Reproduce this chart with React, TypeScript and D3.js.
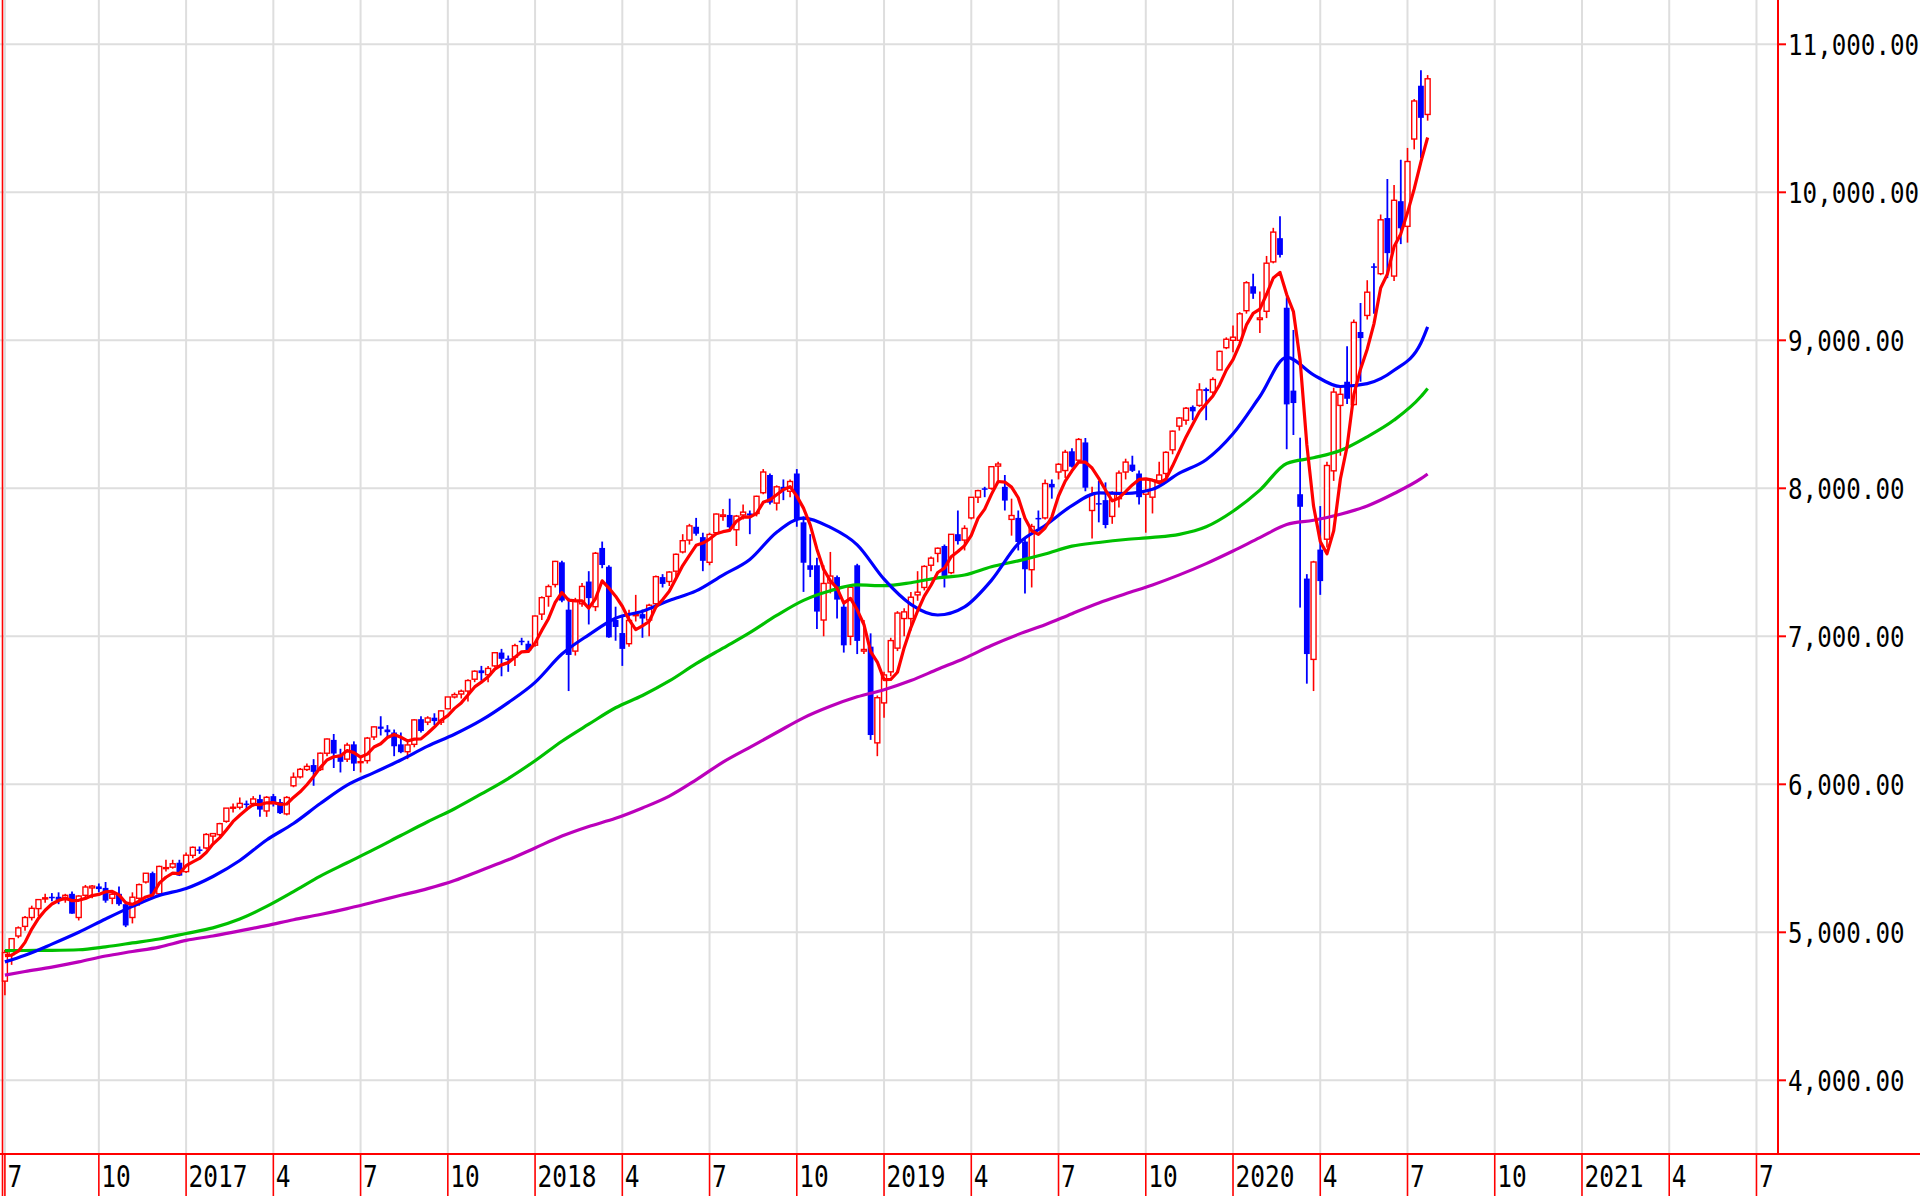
import React from "react";
import * as d3 from "d3";

// Weekly candles, first week = week of 2016-06-27 (index 0), last = week of 2020-07-20 (index 212)
const opens = [
  4670, 4850, 4975, 5040, 5100, 5160, 5225, 5240, 5240, 5220,
  5260, 5100, 5250, 5300, 5310, 5300, 5230, 5260, 5190, 5100,
  5230, 5340, 5400, 5260, 5430, 5440, 5470, 5410, 5520, 5560,
  5570, 5650, 5660, 5750, 5840, 5845, 5870, 5870, 5900, 5820,
  5920, 5880, 5800, 5990, 6050, 6100, 6130, 6100, 6210, 6300,
  6200, 6170, 6270, 6150, 6160, 6320, 6390, 6370, 6350, 6270,
  6220, 6270, 6440, 6420, 6450, 6420, 6510, 6590, 6610, 6630,
  6710, 6770, 6740, 6800, 6890, 6850, 6860, 6970, 6950, 6940,
  7150, 7270, 7350, 7500, 7180, 6900, 7220, 7370, 7200, 7597,
  7470, 7110, 7022, 6950, 7140, 7150, 7110, 7220, 7400, 7370,
  7440, 7570, 7650, 7740, 7670, 7500, 7700, 7810, 7820, 7720,
  7820, 7830, 7830, 7970, 8090, 7900, 8010, 7980, 8100, 7770,
  7480, 7480, 7110, 7360, 7400, 7200, 7000, 7480, 6900, 6930,
  6280, 6550, 6760, 6920, 7120, 7120, 7280, 7330, 7480, 7560,
  7610, 7430, 7690, 7650, 7800, 7940, 8000, 8000, 8150, 8010,
  7790, 7800, 7640, 7450, 7800, 7800, 8030, 8110, 8120, 8250,
  8190, 8310, 7850, 7900, 7920, 7810, 7930, 8110, 8160, 8100,
  7960, 7940, 8050, 8100, 8260, 8420, 8460, 8550, 8560, 8670,
  8650, 8800, 8950, 9000, 9000, 9200, 9365, 9140, 9196, 9530,
  9690, 9220, 8660, 7960, 7390, 6844, 7586, 7656, 8118, 8560,
  8720, 8566, 9056, 9168, 9500, 9450, 9826, 9434, 9940, 9770,
  10360, 10720, 10526,
];
const highs = [
  4880, 4960, 5040, 5110, 5180, 5225, 5260, 5265, 5270, 5260,
  5275, 5250, 5320, 5320, 5330, 5340, 5280, 5310, 5210, 5270,
  5330, 5400, 5410, 5450, 5490, 5490, 5490, 5540, 5580, 5580,
  5670, 5670, 5740, 5840, 5870, 5911, 5890, 5920, 5930, 5920,
  5935, 5900, 5920, 6080, 6110, 6140, 6170, 6215, 6310, 6340,
  6240, 6280, 6290, 6190, 6320, 6390, 6460, 6400, 6370, 6350,
  6290, 6440, 6460, 6460, 6480, 6500, 6590, 6620, 6640, 6710,
  6770, 6800, 6800, 6890, 6915, 6870, 6950, 6990, 6970, 7140,
  7270, 7350, 7510, 7510, 7260, 7260, 7360, 7440, 7570, 7640,
  7480, 7200, 7140, 7180, 7280, 7180, 7220, 7410, 7420, 7440,
  7560, 7690, 7760, 7800, 7700, 7700, 7830, 7860, 7930, 7820,
  7890, 7850, 7950, 8130, 8100, 8020, 8060, 8060, 8130, 7810,
  7690, 7530, 7480, 7570, 7410, 7230, 7340, 7490, 7110, 7020,
  6600, 6760, 6990, 7170, 7190, 7300, 7440, 7480, 7540, 7600,
  7620, 7690, 7850, 7750, 7940, 7990, 8010, 8150, 8180, 8090,
  7930, 7850, 7670, 7760, 7850, 8060, 8060, 8170, 8260, 8270,
  8340, 8340, 8010, 8050, 8040, 7980, 8120, 8200, 8220, 8120,
  8060, 8060, 8180, 8250, 8390, 8480, 8550, 8560, 8710, 8680,
  8750, 8930, 9020, 9100, 9190, 9400, 9450, 9330, 9570, 9760,
  9838, 9290, 9070, 8342, 7420, 7510, 7880, 8180, 8680, 8690,
  8960, 9140, 9252, 9406, 9520, 9850, 10090, 10050, 10220, 10300,
  10630, 10824, 10792,
];
const lows = [
  4574, 4780, 4960, 5010, 5080, 5110, 5200, 5210, 5190, 5200,
  5125, 5080, 5230, 5230, 5270, 5200, 5190, 5180, 5035, 5060,
  5180, 5330, 5240, 5250, 5410, 5430, 5380, 5400, 5500, 5530,
  5560, 5590, 5650, 5740, 5810, 5830, 5820, 5850, 5780, 5780,
  5850, 5800, 5790, 5980, 6040, 6090, 5990, 6090, 6190, 6110,
  6080, 6150, 6090, 6080, 6140, 6300, 6330, 6320, 6190, 6210,
  6170, 6250, 6350, 6400, 6400, 6400, 6510, 6580, 6580, 6560,
  6690, 6700, 6690, 6790, 6730, 6760, 6800, 6940, 6900, 6930,
  7110, 7200, 7330, 7230, 6630, 6870, 7200, 7080, 7170, 7460,
  6990, 6970, 6800, 6930, 7100, 6990, 7000, 7210, 7330, 7340,
  7390, 7560, 7620, 7680, 7440, 7480, 7690, 7780, 7710, 7610,
  7790, 7690, 7810, 7960, 7890, 7850, 7920, 7940, 7740, 7300,
  7400, 7050, 7000, 7290, 7120, 6890, 6940, 6880, 6880, 6300,
  6190, 6450, 6730, 6900, 7000, 7040, 7240, 7310, 7440, 7500,
  7330, 7420, 7620, 7580, 7790, 7900, 7940, 7990, 8040, 7850,
  7680, 7580, 7290, 7330, 7730, 7790, 7930, 8060, 8070, 8140,
  8180, 7980, 7660, 7770, 7730, 7760, 7870, 8060, 8110, 7890,
  7700, 7830, 8040, 8060, 8230, 8390, 8430, 8460, 8550, 8460,
  8620, 8800, 8940, 8920, 8980, 9180, 9280, 9050, 9150, 9520,
  9560, 8264, 8360, 7194, 6680, 6630, 7280, 7600, 8050, 8220,
  8570, 8560, 8720, 9140, 9180, 9440, 9420, 9400, 9650, 9660,
  10290, 10232, 10484,
];
const closes = [
  4863, 4957, 5030, 5100, 5162, 5221, 5233, 5238, 5219, 5250,
  5126, 5245, 5306, 5312, 5292, 5214, 5257, 5190, 5046, 5237,
  5322, 5399, 5256, 5445, 5437, 5463, 5383, 5521, 5574, 5555,
  5661, 5667, 5734, 5839, 5845, 5871, 5862, 5901, 5829, 5912,
  5878, 5805, 5911, 6048, 6101, 6121, 6084, 6210, 6306, 6208,
  6152, 6265, 6140, 6153, 6312, 6388, 6375, 6352, 6257, 6217,
  6266, 6435, 6360, 6448, 6427, 6496, 6590, 6606, 6629, 6701,
  6764, 6751, 6783, 6889, 6848, 6840, 6937, 6960, 6903, 7137,
  7261, 7336, 7506, 7241, 6874, 7239, 7337, 7258, 7561, 7482,
  6993, 7063, 6915, 7107, 7146, 7120, 7210, 7403, 7354, 7434,
  7554, 7646, 7746, 7693, 7510, 7688, 7826, 7820, 7737, 7812,
  7839, 7816, 7946, 8110, 7903, 8010, 7987, 8046, 7788, 7497,
  7449, 7167, 7357, 7407, 7248, 6939, 7331, 6969, 6911, 6333,
  6585, 6739, 6971, 7157, 7165, 7264, 7298, 7472, 7528, 7595,
  7408, 7689, 7643, 7729, 7939, 7984, 7998, 8146, 8164, 7917,
  7816, 7637, 7453, 7742, 7797, 8032, 8006, 8162, 8244, 8146,
  8330, 8004, 7959, 7896, 7752, 7963, 8103, 8177, 8118, 7940,
  7982, 8057, 8090, 8243, 8386, 8475, 8541, 8520, 8665, 8657,
  8735, 8925, 9007, 9021, 9179, 9389, 9315, 9151, 9521, 9731,
  9577, 8567, 8576, 7875, 6880, 7502, 7373, 8154, 8650, 8635,
  8605, 9121, 9015, 9325, 9490, 9814, 9589, 9946, 9757, 10208,
  10617, 10503, 10767,
];

// red moving average, one value per week
const maRed = [
  4842, 4845, 4872, 4932, 5022, 5094, 5149, 5191, 5215, 5232,
  5213, 5216, 5229, 5248, 5256, 5274, 5276, 5253, 5200, 5189,
  5210, 5239, 5252, 5332, 5372, 5400, 5397, 5450, 5476, 5499,
  5539, 5596, 5638, 5691, 5749, 5791, 5830, 5864, 5862, 5875,
  5876, 5865, 5867, 5911, 5949, 5997, 6053, 6113, 6164, 6186,
  6192, 6228, 6214, 6184, 6204, 6252, 6274, 6316, 6337, 6318,
  6293, 6305, 6307, 6345, 6387, 6433, 6464, 6513, 6550, 6604,
  6658, 6690, 6726, 6778, 6807, 6822, 6859, 6895, 6898, 6955,
  7040, 7119, 7229, 7296, 7244, 7239, 7239, 7190, 7254, 7375,
  7326, 7271, 7203, 7112, 7045, 7070, 7100, 7197, 7247, 7304,
  7391, 7478, 7547, 7615, 7630, 7657, 7693, 7707, 7716, 7777,
  7807, 7805, 7830, 7905, 7923, 7957, 7991, 8011, 7947, 7866,
  7753, 7589, 7452, 7375, 7326, 7224, 7256, 7179, 7080, 6897,
  6826, 6707, 6708, 6757, 6923, 7059, 7171, 7271, 7345, 7431,
  7460, 7538, 7573, 7613, 7682, 7797, 7859, 7959, 8046, 8042,
  8008, 7936, 7797, 7713, 7689, 7732, 7806, 7948, 8048, 8118,
  8178, 8177, 8137, 8067, 7988, 7915, 7935, 7978, 8023, 8060,
  8064, 8055, 8037, 8062, 8152, 8250, 8347, 8433, 8517, 8572,
  8624, 8700, 8798, 8869, 8973, 9104, 9182, 9211, 9311, 9421,
  9459, 9309, 9194, 8865, 8295, 7880, 7641, 7557, 7712, 8063,
  8283, 8633, 8805, 8940, 9111, 9353, 9447, 9633, 9719, 9863,
  10023, 10206, 10370,
];

// longer averages, read every fourth week
const maWeeks = [
  0, 3, 7, 11, 15, 19, 23, 27, 31, 35, 39, 43, 47, 51, 55, 59, 63, 67, 71, 75,
  79, 83, 87, 91, 95, 99, 103, 107, 111, 115, 119, 123, 127, 131, 135, 139, 143, 147, 151, 155,
  159, 163, 167, 171, 175, 179, 183, 187, 191, 195, 199, 203, 207, 211, 212,
];
const maBlue = [
  4800, 4845, 4920, 5000, 5090, 5175, 5249, 5296, 5377, 5485, 5624, 5735, 5870, 5994, 6079, 6164, 6258, 6338, 6433, 6552,
  6689, 6880, 7010, 7122, 7169, 7242, 7307, 7414, 7519, 7703, 7799, 7736, 7618, 7386, 7216, 7144, 7199, 7378, 7626, 7749,
  7883, 7969, 7965, 7993, 8102, 8193, 8368, 8620, 8885, 8767, 8688, 8707, 8797, 8982, 9091,
];
const maGreen = [
  4876, 4877, 4878, 4882, 4902, 4928, 4955, 4992, 5030, 5090, 5175, 5275, 5380, 5470, 5560, 5654, 5747, 5835, 5935, 6039,
  6159, 6291, 6406, 6517, 6600, 6698, 6815, 6920, 7025, 7141, 7243, 7308, 7347, 7342, 7362, 7395, 7414, 7470, 7510, 7556,
  7609, 7634, 7654, 7668, 7689, 7740, 7845, 7988, 8168, 8206, 8255, 8348, 8461, 8620, 8675,
];
const maMagenta = [
  4711, 4735, 4765, 4800, 4840, 4870, 4900, 4945, 4975, 5010, 5045, 5085, 5120, 5160, 5205, 5250, 5295, 5350, 5420, 5490,
  5570, 5650, 5715, 5770, 5840, 5920, 6030, 6150, 6250, 6350, 6449, 6527, 6591, 6639, 6701, 6777, 6852, 6938, 7013, 7078,
  7153, 7225, 7287, 7347, 7415, 7491, 7576, 7667, 7755, 7784, 7825, 7881, 7965, 8065, 8097,
];

const yTicks = [4000, 5000, 6000, 7000, 8000, 9000, 10000, 11000];
const xTickMonths: [number, number][] = [
  [2016, 7], [2016, 10], [2017, 1], [2017, 4], [2017, 7], [2017, 10], [2018, 1], [2018, 4], [2018, 7], [2018, 10],
  [2019, 1], [2019, 4], [2019, 7], [2019, 10], [2020, 1], [2020, 4], [2020, 7], [2020, 10], [2021, 1], [2021, 4], [2021, 7],
];
const xTickLabels = [
  "7", "10", "2017", "4", "7", "10", "2018", "4", "7", "10",
  "2019", "4", "7", "10", "2020", "4", "7", "10", "2021", "4", "7",
];

const W = 1920;
const H = 1196;
const PLOT_RIGHT = 1778;
const PLOT_BOTTOM = 1154;
const RED = "#ff0000";
const BLUE = "#0000ff";
const GRID = "#dedede";
const FONT = "'DejaVu Sans Mono', 'Liberation Mono', monospace";

export default function App() {
  const start = new Date(2016, 5, 27);
  const x = d3.scaleLinear().domain([0, 261]).range([4.9, 4.9 + 261 * 6.711]);
  const y = d3.scaleLinear().domain([4000, 11000]).range([1080.3, 44.3]);

  const tickIdx = xTickMonths.map(([yr, mo]) => {
    let d = new Date(yr, mo - 1, 1);
    const wd = d.getDay();
    if (wd === 6) d = d3.timeDay.offset(d, 2);
    else if (wd === 0) d = d3.timeDay.offset(d, 1);
    const mon = d3.timeMonday.floor(d);
    return d3.timeMonday.count(start, mon);
  });

  const fmt = d3.format(",.2f");

  const redLine = d3
    .line<number>()
    .x((_, i) => x(i))
    .y((v) => y(v));
  const smooth = d3
    .line<number>()
    .x((_, i) => x(maWeeks[i]))
    .y((v) => y(v))
    .curve(d3.curveMonotoneX);

  return (
    <svg
      width={W}
      height={H}
      style={{ position: "absolute", left: 0, top: 0, background: "#fff" }}
    >
      <rect x={0} y={0} width={W} height={H} fill="#fff" />
      {/* grid */}
      {yTicks.map((v) => (
        <line key={"hg" + v} x1={0} x2={PLOT_RIGHT} y1={y(v)} y2={y(v)} stroke={GRID} strokeWidth={2} />
      ))}
      {tickIdx.map((t, k) => (
        <line key={"vg" + k} x1={x(t)} x2={x(t)} y1={0} y2={PLOT_BOTTOM} stroke={GRID} strokeWidth={2} />
      ))}

      {/* candles */}
      {closes.map((c, i) => {
        const o = opens[i];
        const hi = highs[i];
        const lo = lows[i];
        const cx = x(i);
        const up = c >= o;
        const top = y(Math.max(o, c));
        const bot = y(Math.min(o, c));
        if (up) {
          return (
            <g key={"c" + i}>
              <line x1={cx} x2={cx} y1={y(hi)} y2={y(lo)} stroke={RED} strokeWidth={1.6} />
              <rect x={cx - 2.5} y={top} width={5} height={Math.max(1, bot - top)} fill="#fff" stroke={RED} strokeWidth={1.4} />
            </g>
          );
        }
        return (
          <g key={"c" + i}>
            <line x1={cx} x2={cx} y1={y(hi)} y2={y(lo)} stroke={BLUE} strokeWidth={1.8} />
            <rect x={cx - 2.9} y={top} width={5.8} height={Math.max(1.5, bot - top)} fill={BLUE} />
          </g>
        );
      })}

      {/* moving averages */}
      <path d={smooth(maMagenta) || ""} fill="none" stroke="#bb00bb" strokeWidth={3.2} />
      <path d={smooth(maGreen) || ""} fill="none" stroke="#00c000" strokeWidth={3.2} />
      <path d={smooth(maBlue) || ""} fill="none" stroke={BLUE} strokeWidth={3.2} />
      <path d={redLine(maRed) || ""} fill="none" stroke={RED} strokeWidth={3.2} strokeLinejoin="round" />

      {/* axes */}
      <line x1={2.5} x2={2.5} y1={0} y2={H} stroke={RED} strokeWidth={1.6} />
      <line x1={PLOT_RIGHT} x2={PLOT_RIGHT} y1={0} y2={PLOT_BOTTOM} stroke={RED} strokeWidth={2} />
      <line x1={0} x2={W} y1={PLOT_BOTTOM} y2={PLOT_BOTTOM} stroke={RED} strokeWidth={2} />
      {tickIdx.map((t, k) => (
        <g key={"xt" + k}>
          <line x1={x(t)} x2={x(t)} y1={PLOT_BOTTOM} y2={H} stroke={RED} strokeWidth={1.6} />
          <text
            transform={`translate(${x(t) + 2.5},1187) scale(1,1.22)`}
            fontFamily={FONT}
            fontSize={24.5}
            fill="#000"
          >
            {xTickLabels[k]}
          </text>
        </g>
      ))}
      {yTicks.map((v) => (
        <g key={"yt" + v}>
          <line x1={PLOT_RIGHT} x2={PLOT_RIGHT + 8} y1={y(v)} y2={y(v)} stroke={RED} strokeWidth={2} />
          <text
            transform={`translate(1788,${y(v) + 10.3}) scale(1,1.14)`}
            fontFamily={FONT}
            fontSize={24.2}
            fill="#000"
          >
            {fmt(v)}
          </text>
        </g>
      ))}
    </svg>
  );
}
